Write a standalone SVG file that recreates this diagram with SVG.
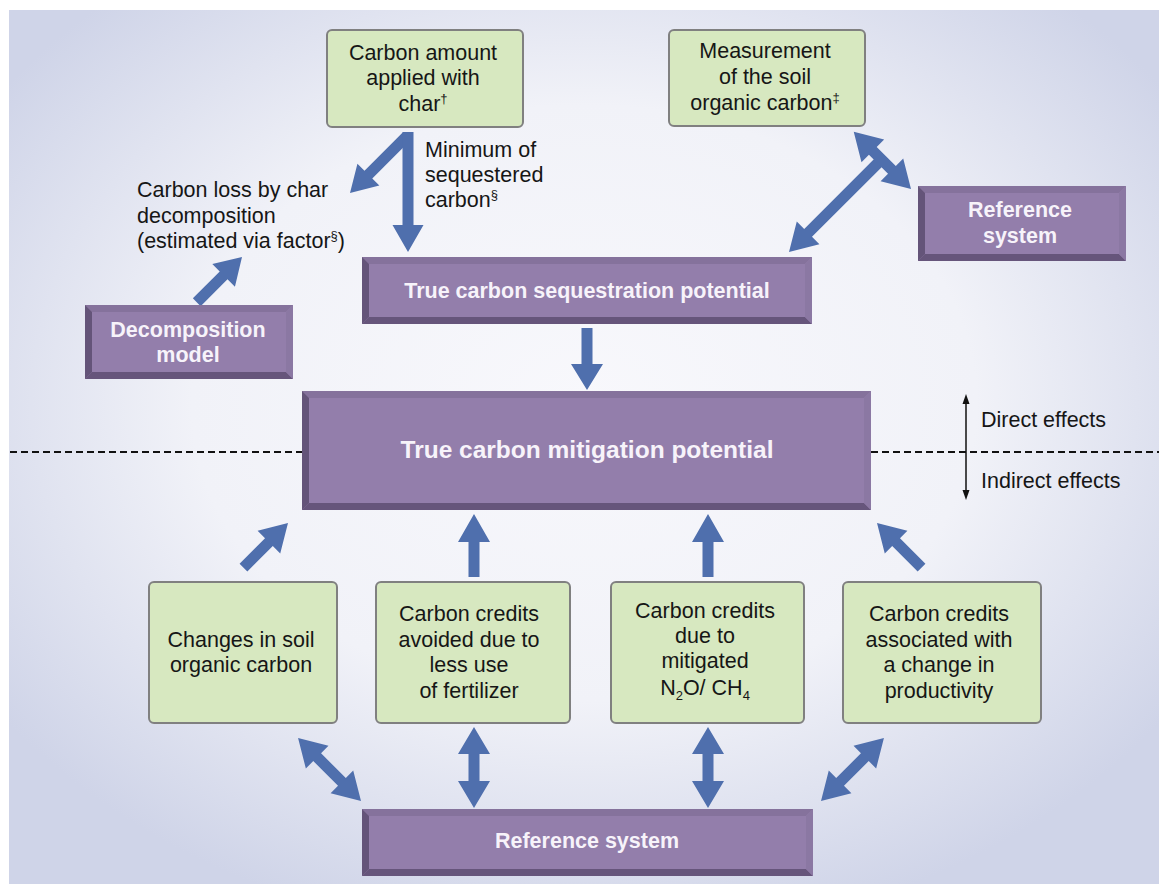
<svg xmlns="http://www.w3.org/2000/svg" width="1159" height="884" viewBox="0 0 1159 884">
<defs>
<radialGradient id="bg" cx="0.5" cy="0.45" r="0.62">
<stop offset="0" stop-color="#f8f8fc"/>
<stop offset="0.55" stop-color="#f1f2f8"/>
<stop offset="1" stop-color="#cfd4e8"/>
</radialGradient>
</defs>
<style>
.t{font-family:"Liberation Sans",Arial,sans-serif;font-size:21.5px;fill:#161616}
.m{text-anchor:middle}
.w{font-family:"Liberation Sans",Arial,sans-serif;font-size:21.5px;font-weight:bold;fill:#f7f3fa;text-anchor:middle}
.sup{font-size:13px}
.g{fill:#d7e8c0;stroke:#808080;stroke-width:2}
.pc{fill:#937eab}
.pt{fill:#85729c}
.pl{fill:#645479}
.pb{fill:#66557b}
.pr{fill:#8b78a3}
.a{fill:#4f6fad}
</style>
<rect width="1159" height="884" fill="#ffffff"/>
<rect x="9" y="10" width="1150" height="874" fill="url(#bg)"/>

<g id="dashed-line">
<line x1="10" y1="452" x2="302" y2="452" stroke="#111" stroke-width="2" stroke-dasharray="7 4"/>
<line x1="871" y1="452" x2="1159" y2="452" stroke="#111" stroke-width="2" stroke-dasharray="7 4"/>
</g>

<g id="connectors">
<polygon class="a" transform="translate(350,193) rotate(135)" points="-80,-5.5 -26,-5.5 -26,-15.5 0,0 -26,15.5 -26,5.5 -80,5.5"/>
<polygon class="a" transform="translate(408,252) rotate(90)" points="-120,-5.5 -27,-5.5 -27,-15.5 0,0 -27,15.5 -27,5.5 -120,5.5"/>
<polygon class="a" transform="translate(242,257) rotate(-45)" points="-64,-5.5 -26,-5.5 -26,-16 0,0 -26,16 -26,5.5 -64,5.5"/>
<polygon class="a" transform="translate(587,390) rotate(90)" points="-62,-5.5 -26,-5.5 -26,-16 0,0 -26,16 -26,5.5 -62,5.5"/>
<polygon class="a" transform="translate(789,252) rotate(135)" points="-128,-5.5 -27,-5.5 -27,-16 0,0 -27,16 -27,5.5 -128,5.5"/>
<polygon class="a" transform="translate(911,189) rotate(45)" points="0,0 -27,-16 -27,-5.5 -54,-5.5 -54,-16 -81,0 -54,16 -54,5.5 -27,5.5 -27,16"/>
<polygon class="a" transform="translate(288,523) rotate(-45)" points="-63,-5.5 -27,-5.5 -27,-16 0,0 -27,16 -27,5.5 -63,5.5"/>
<polygon class="a" transform="translate(474,514) rotate(-90)" points="-63,-5.5 -28,-5.5 -28,-16 0,0 -28,16 -28,5.5 -63,5.5"/>
<polygon class="a" transform="translate(708,514) rotate(-90)" points="-63,-5.5 -28,-5.5 -28,-16 0,0 -28,16 -28,5.5 -63,5.5"/>
<polygon class="a" transform="translate(877,523) rotate(-135)" points="-63,-5.5 -27,-5.5 -27,-16 0,0 -27,16 -27,5.5 -63,5.5"/>
<polygon class="a" transform="translate(361,801) rotate(45)" points="0,0 -27,-16 -27,-5.5 -62,-5.5 -62,-16 -89,0 -62,16 -62,5.5 -27,5.5 -27,16"/>
<polygon class="a" transform="translate(474,808) rotate(90)" points="0,0 -27,-16 -27,-5.5 -54,-5.5 -54,-16 -81,0 -54,16 -54,5.5 -27,5.5 -27,16"/>
<polygon class="a" transform="translate(708,808) rotate(90)" points="0,0 -27,-16 -27,-5.5 -54,-5.5 -54,-16 -81,0 -54,16 -54,5.5 -27,5.5 -27,16"/>
<polygon class="a" transform="translate(821,801) rotate(135)" points="0,0 -27,-16 -27,-5.5 -62,-5.5 -62,-16 -89,0 -62,16 -62,5.5 -27,5.5 -27,16"/>
</g>

<g id="effects-axis">
<line x1="966" y1="400" x2="966" y2="494" stroke="#111" stroke-width="1.5"/>
<polygon points="966,394 962.5,404 969.5,404" fill="#111"/>
<polygon points="966,500 962.5,490 969.5,490" fill="#111"/>
<text class="t" x="981" y="427">Direct effects</text>
<text class="t" x="981" y="488">Indirect effects</text>
</g>

<g id="carbon-amount">
<rect class="g" x="327" y="30" width="196" height="97" rx="5"/>
<text class="t m" x="423" y="60">Carbon amount</text>
<text class="t m" x="423" y="85">applied with</text>
<text class="t m" x="423" y="111">char<tspan class="sup" dy="-8">†</tspan></text>
</g>

<g id="measurement">
<rect class="g" x="669" y="30" width="196" height="96" rx="5"/>
<text class="t m" x="765" y="58">Measurement</text>
<text class="t m" x="765" y="84">of the soil</text>
<text class="t m" x="765" y="110">organic carbon<tspan class="sup" dy="-8">‡</tspan></text>
</g>

<g id="carbon-loss">
<text class="t" x="137" y="197">Carbon loss by char</text>
<text class="t" x="137" y="223">decomposition</text>
<text class="t" x="137" y="248">(estimated via factor<tspan class="sup" dy="-8">§</tspan><tspan dy="8">)</tspan></text>
</g>

<g id="minimum-sequestered">
<text class="t" x="425" y="157">Minimum of</text>
<text class="t" x="425" y="182">sequestered</text>
<text class="t" x="425" y="207">carbon<tspan class="sup" dy="-8">§</tspan></text>
</g>

<g id="decomposition-model">
<rect class="pc" x="85" y="305" width="208" height="74"/>
<polygon class="pt" points="85,305 293,305 286,312 92,312"/>
<polygon class="pl" points="85,305 92,312 92,372 85,379"/>
<polygon class="pb" points="85,379 92,372 286,372 293,379"/>
<polygon class="pr" points="293,305 293,379 286,372 286,312"/>
<text class="w" x="188" y="337">Decomposition</text>
<text class="w" x="188" y="362">model</text>
</g>

<g id="sequestration-potential">
<rect class="pc" x="362" y="257" width="450" height="67"/>
<polygon class="pt" points="362,257 812,257 805,264 369,264"/>
<polygon class="pl" points="362,257 369,264 369,317 362,324"/>
<polygon class="pb" points="362,324 369,317 805,317 812,324"/>
<polygon class="pr" points="812,257 812,324 805,317 805,264"/>
<text class="w" x="587" y="298">True carbon sequestration potential</text>
</g>

<g id="reference-system-top">
<rect class="pc" x="918" y="186" width="208" height="75"/>
<polygon class="pt" points="918,186 1126,186 1119,193 925,193"/>
<polygon class="pl" points="918,186 925,193 925,254 918,261"/>
<polygon class="pb" points="918,261 925,254 1119,254 1126,261"/>
<polygon class="pr" points="1126,186 1126,261 1119,254 1119,193"/>
<text class="w" x="1020" y="217">Reference</text>
<text class="w" x="1020" y="243">system</text>
</g>

<g id="mitigation-potential">
<rect class="pc" x="302" y="391" width="569" height="119"/>
<polygon class="pt" points="302,391 871,391 864,398 309,398"/>
<polygon class="pl" points="302,391 309,398 309,503 302,510"/>
<polygon class="pb" points="302,510 309,503 864,503 871,510"/>
<polygon class="pr" points="871,391 871,510 864,503 864,398"/>
<text class="w" x="587" y="458" style="font-size:24.5px">True carbon mitigation potential</text>
</g>

<g id="changes-soil">
<rect class="g" x="149" y="582" width="188" height="141" rx="5"/>
<text class="t m" x="241" y="647">Changes in soil</text>
<text class="t m" x="241" y="672">organic carbon</text>
</g>

<g id="credits-fertilizer">
<rect class="g" x="376" y="582" width="194" height="141" rx="5"/>
<text class="t m" x="469" y="621">Carbon credits</text>
<text class="t m" x="469" y="647">avoided due to</text>
<text class="t m" x="469" y="672">less use</text>
<text class="t m" x="469" y="698">of fertilizer</text>
</g>

<g id="credits-n2o-ch4">
<rect class="g" x="611" y="582" width="193" height="141" rx="5"/>
<text class="t m" x="705" y="618">Carbon credits</text>
<text class="t m" x="705" y="643">due to</text>
<text class="t m" x="705" y="668">mitigated</text>
<text class="t m" x="705" y="695">N<tspan class="sup" dy="5">2</tspan><tspan dy="-5">O/ CH</tspan><tspan class="sup" dy="5">4</tspan></text>
</g>

<g id="credits-productivity">
<rect class="g" x="843" y="582" width="198" height="141" rx="5"/>
<text class="t m" x="939" y="621">Carbon credits</text>
<text class="t m" x="939" y="647">associated with</text>
<text class="t m" x="939" y="672">a change in</text>
<text class="t m" x="939" y="698">productivity</text>
</g>

<g id="reference-system-bottom">
<rect class="pc" x="362" y="809" width="451" height="67"/>
<polygon class="pt" points="362,809 813,809 806,816 369,816"/>
<polygon class="pl" points="362,809 369,816 369,869 362,876"/>
<polygon class="pb" points="362,876 369,869 806,869 813,876"/>
<polygon class="pr" points="813,809 813,876 806,869 806,816"/>
<text class="w" x="587" y="848">Reference system</text>
</g>
</svg>
